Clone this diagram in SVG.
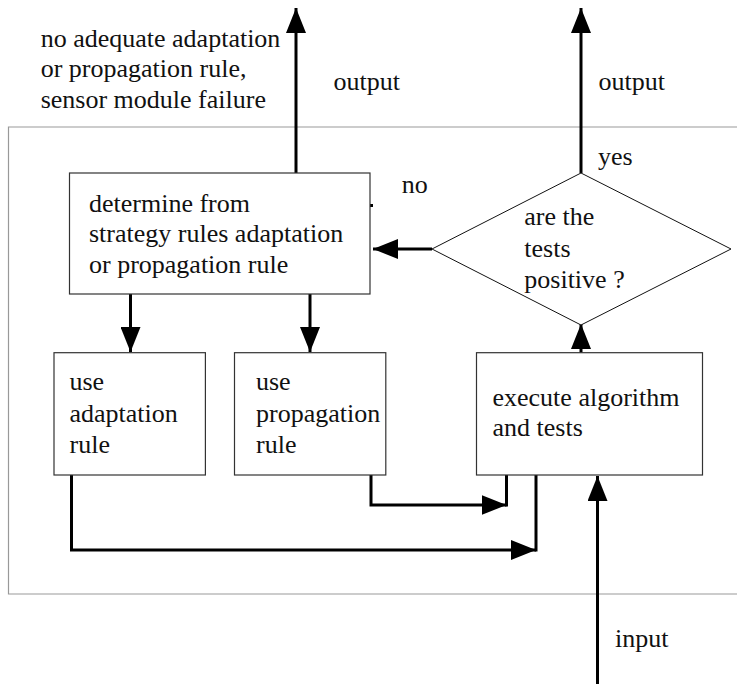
<svg xmlns="http://www.w3.org/2000/svg" width="737" height="684" viewBox="0 0 737 684">
<style>
.box{fill:#fff;stroke:#333;stroke-width:1.2}
.dia{fill:#fff;stroke:#111;stroke-width:1}
.frame{fill:none;stroke:#999;stroke-width:1.2}
.con{fill:none;stroke:#000;stroke-width:3}
.arr{marker-end:url(#ah)}
.t{font-family:Liberation Serif, Tinos, serif;font-size:26px;fill:#111}
</style>
<defs>
<marker id="ah" markerUnits="userSpaceOnUse" markerWidth="25" markerHeight="20" refX="25" refY="10" orient="auto" viewBox="0 0 25 20">
<path d="M0,0 L25,10 L0,20 z" fill="#000"/>
</marker>
</defs>
<path class="frame" d="M745,127 H8.5 V594 H745"/>
<g class="t">
<g id="labels">
<text x="40.7" y="46.5">no adequate adaptation</text>
<text x="40.7" y="77">or propagation rule,</text>
<text x="40.7" y="107.5">sensor module failure</text>
<text x="333.5" y="90">output</text>
<text x="598.5" y="90">output</text>
<text x="598" y="165">yes</text>
<text x="401.7" y="193">no</text>
<text x="615" y="647">input</text>
</g>
<g id="connectors">
<line class="con arr" x1="296" y1="173" x2="296" y2="8"/>
<line class="con arr" x1="581" y1="173" x2="581" y2="8"/>
<line class="con arr" x1="432" y1="249" x2="373" y2="249"/>
<line class="con arr" x1="130.5" y1="294" x2="130.5" y2="352"/>
<line class="con arr" x1="310" y1="294" x2="310" y2="352"/>
<line class="con arr" x1="581" y1="352.7" x2="581" y2="324"/>
<path class="con arr" d="M71.5,475 V550 H536"/>
<line class="con" x1="536" y1="551.5" x2="536" y2="475"/>
<path class="con arr" d="M371,475 V505 H506.5"/>
<line class="con" x1="506.5" y1="506.5" x2="506.5" y2="475"/>
<line class="con arr" x1="597.5" y1="684" x2="597.5" y2="476"/>
<rect x="370" y="204" width="3" height="3" fill="#000"/>
</g>
<g id="determine">
<rect class="box" x="69.5" y="173" width="300.5" height="121"/>
<text x="89" y="211.5">determine from</text>
<text x="89" y="242">strategy rules adaptation</text>
<text x="89" y="273">or propagation rule</text>
</g>
<g id="decision">
<polygon class="dia" points="581,173 731,249 581,325 432,249"/>
<text x="524.3" y="225">are the</text>
<text x="524.3" y="256.5">tests</text>
<text x="524.3" y="288">positive ?</text>
</g>
<g id="adaptation">
<rect class="box" x="54" y="352.7" width="151.4" height="122.3"/>
<text x="69.5" y="390">use</text>
<text x="69.5" y="421.5">adaptation</text>
<text x="69.5" y="453">rule</text>
</g>
<g id="propagation">
<rect class="box" x="234.5" y="352.7" width="151.3" height="122.3"/>
<text x="256" y="390">use</text>
<text x="256" y="421.5">propagation</text>
<text x="256" y="453">rule</text>
</g>
<g id="execute">
<rect class="box" x="476.5" y="352.7" width="226" height="122.3"/>
<text x="492.5" y="406">execute algorithm</text>
<text x="492.5" y="436">and tests</text>
</g>
</g>
</svg>
